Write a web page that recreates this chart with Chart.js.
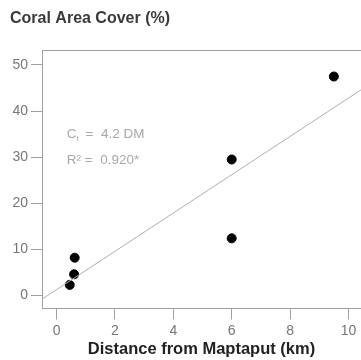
<!DOCTYPE html>
<html>
<head>
<meta charset="utf-8">
<script src="https://cdn.jsdelivr.net/npm/chart.js@4"></script>
<style>
  html, body { margin: 0; padding: 0; background: #fff; overflow: hidden; }
  #wrap { width: 361px; height: 360px; }
</style>
</head>
<body>
<div id="wrap"><canvas id="coralChart" width="361" height="360"></canvas></div>
<script>
// Site data: distance from Maptaput (km) vs coral area cover (%)
const distanceKm = [0.45, 0.6, 0.62, 6.0, 6.0, 9.5];
const coralCover = [2.3, 4.6, 8.2, 29.5, 12.4, 47.5];

// Fitted line end points (as drawn)
const fitX = [-0.5, 10.43];
const fitY = [-0.8, 44.6];

const xTicks = [0, 2, 4, 6, 8, 10];
const yTicks = [0, 10, 20, 30, 40, 50];

const FONT = '"Liberation Sans", Arial, sans-serif';
const axisGray = '#a0a0a0';

// Titles, annotation text and the top frame line
const decorPlugin = {
    id: 'decor',
    afterDraw(chart) {
        const { ctx: c, chartArea: a, scales } = chart;
        c.save();
        // top frame line
        c.strokeStyle = axisGray;
        c.lineWidth = 1;
        c.beginPath();
        c.moveTo(a.left, a.top + 0.5);
        c.lineTo(a.right, a.top + 0.5);
        c.stroke();

        // y title
        c.fillStyle = '#3a3a3a';
        c.font = 'bold 16px ' + FONT;
        c.textBaseline = 'alphabetic';
        c.textAlign = 'left';
        c.fillText('Coral Area Cover (%)', 10, 23);

        // annotation
        const ax = scales.x.getPixelForValue(0.35);
        c.fillStyle = '#a8a8a8';
        c.font = '13.5px ' + FONT;
        c.fillText('C', ax, 138);
        const cw = c.measureText('C').width;
        c.font = '8px ' + FONT;
        c.fillText('t', ax + cw, 141);
        c.font = '13.5px ' + FONT;
        c.fillText('=  4.2 DM', ax + cw + 9, 138);
        c.fillText('R\u00B2 =  0.920*', ax, 164);
        c.restore();
    }
};

new Chart(document.getElementById('coralChart'), {
    type: 'scatter',
    data: {
        datasets: [
            {
                type: 'line',
                data: fitX.map((x, i) => ({ x: x, y: fitY[i] })),
                borderColor: '#b0b0b0',
                borderWidth: 1,
                pointRadius: 0,
                fill: false
            },
            {
                data: distanceKm.map((x, i) => ({ x: x, y: coralCover[i] })),
                backgroundColor: '#000',
                borderColor: '#000',
                pointRadius: 4.5,
                pointHoverRadius: 4.5
            }
        ]
    },
    plugins: [decorPlugin],
    options: {
        responsive: false,
        animation: false,
        layout: { autoPadding: false, padding: { top: 50, left: 0, right: 0, bottom: 0 } },
        plugins: {
            legend: { display: false },
            tooltip: { enabled: false }
        },
        scales: {
            x: {
                type: 'linear',
                min: -0.5,
                max: 10.43,
                afterBuildTicks: s => { s.ticks = xTicks.map(v => ({ value: v })); },
                afterFit: s => { s.height = 51.5; s.paddingLeft = 0; s.paddingRight = 0; },
                border: { color: axisGray, width: 1 },
                grid: { drawOnChartArea: false, tickLength: 11, color: axisGray },
                ticks: { padding: 3, color: '#777', font: { family: FONT, size: 14 } },
                title: {
                    display: true,
                    text: 'Distance from Maptaput (km)',
                    color: '#222',
                    font: { family: FONT, size: 16.5, weight: 'bold' },
                    padding: { top: 0, bottom: 1 }
                }
            },
            y: {
                type: 'linear',
                min: -2.82,
                max: 53.25,
                afterBuildTicks: s => { s.ticks = yTicks.map(v => ({ value: v })); },
                afterFit: s => { s.width = 42; s.paddingTop = 0; s.paddingBottom = 0; },
                border: { color: axisGray, width: 1 },
                grid: { drawOnChartArea: false, tickLength: 11, color: axisGray },
                ticks: { padding: 3, color: '#777', font: { family: FONT, size: 14 } }
            }
        }
    }
});
</script>
</body>
</html>
